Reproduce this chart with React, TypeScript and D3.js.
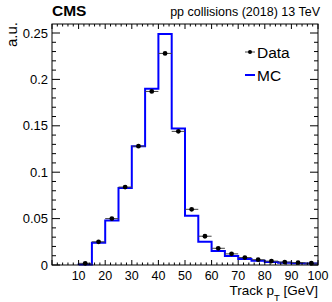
import React from "react";
import * as d3 from "d3";

// bin low edges (GeV), bin width 5
const binLow = [10, 15, 20, 25, 30, 35, 40, 45, 50, 55, 60, 65, 70, 75, 80, 85, 90, 95];
const binWidth = 5;
const mcValues = [
  0.0006, 0.024, 0.048, 0.083, 0.128, 0.19, 0.249, 0.147, 0.053, 0.025, 0.015, 0.0097, 0.0065, 0.0045,
  0.0033, 0.0025, 0.0019, 0.0015,
];
const dataValues = [
  0.0018, 0.025, 0.05, 0.084, 0.128, 0.187, 0.228, 0.144, 0.06, 0.031, 0.018, 0.012, 0.008, 0.0057,
  0.0042, 0.0032, 0.0025, 0.002,
];
const xTickLabels = [10, 20, 30, 40, 50, 60, 70, 80, 90, 100];
const yTickLabels = [0, 0.05, 0.1, 0.15, 0.2, 0.25];

const width = 332;
const height = 302;
const frame = { left: 52, right: 318, top: 24, bottom: 265 };
const font = "'Liberation Sans', Arial, Helvetica, sans-serif";

export default function App() {
  const x = d3.scaleLinear().domain([0, 100]).range([frame.left, frame.right]);
  const y = d3.scaleLinear().domain([0, 0.2597]).range([frame.bottom, frame.top]);

  // MC histogram as a step line
  const mcPoints: [number, number][] = [[binLow[0], 0]];
  binLow.forEach((lo, i) => mcPoints.push([lo, mcValues[i]]));
  mcPoints.push([binLow[binLow.length - 1] + binWidth, mcValues[mcValues.length - 1]]);
  const mcLine = d3
    .line<[number, number]>()
    .x((d) => x(d[0]))
    .y((d) => y(d[1]))
    .curve(d3.curveStepAfter);

  const xMinor = d3.range(0, 101, 2);
  const yMinor = d3.range(0, 0.26, 0.01);

  const xMajLen = 5, xMinLen = 2.5, yMajLen = 8, yMinLen = 4;

  return (
    <svg
      width={width}
      height={height}
      style={{ position: "absolute", left: 0, top: 0, background: "#fff" }}
      fontFamily={font}
    >
      <rect x={0} y={0} width={width} height={height} fill="#fff" />

      {/* MC histogram */}
      <path d={mcLine(mcPoints) || ""} fill="none" stroke="#0000ff" strokeWidth={2} />

      {/* data points with x error bars */}
      {binLow.map((lo, i) => (
        <g key={"d" + i}>
          <line
            x1={x(lo)}
            x2={x(lo + binWidth)}
            y1={y(dataValues[i])}
            y2={y(dataValues[i])}
            stroke="#444"
            strokeWidth={1}
          />
          <circle cx={x(lo + binWidth / 2)} cy={y(dataValues[i])} r={2.4} fill="#000" />
        </g>
      ))}

      {/* frame */}
      <rect
        x={frame.left}
        y={frame.top}
        width={frame.right - frame.left}
        height={frame.bottom - frame.top}
        fill="none"
        stroke="#000"
        strokeWidth={1}
      />

      {/* x ticks bottom & top */}
      {xMinor.map((v) => {
        const major = v % 10 === 0;
        const len = major ? xMajLen : xMinLen;
        return (
          <g key={"xt" + v} stroke="#000" strokeWidth={1}>
            <line x1={x(v)} x2={x(v)} y1={frame.bottom} y2={frame.bottom - len} />
            <line x1={x(v)} x2={x(v)} y1={frame.top} y2={frame.top + len} />
          </g>
        );
      })}
      {xTickLabels.map((v) => (
        <text key={"xl" + v} x={x(v)} y={279.5} textAnchor="middle" fontSize={12.5} fill="#000">
          {v}
        </text>
      ))}

      {/* y ticks left & right */}
      {yMinor.map((v, i) => {
        const major = i % 5 === 0;
        const len = major ? yMajLen : yMinLen;
        return (
          <g key={"yt" + i} stroke="#000" strokeWidth={1}>
            <line x1={frame.left} x2={frame.left + len} y1={y(v)} y2={y(v)} />
            <line x1={frame.right} x2={frame.right - len} y1={y(v)} y2={y(v)} />
          </g>
        );
      })}
      {yTickLabels.map((v) => (
        <text
          key={"yl" + v}
          x={frame.left - 4}
          y={y(v)}
          dy="0.35em"
          textAnchor="end"
          fontSize={13}
          fill="#000"
        >
          {v}
        </text>
      ))}

      {/* axis titles */}
      <text x={frame.right} y={294.5} textAnchor="end" fontSize={13.5} fill="#000">
        Track p
        <tspan fontSize={9.5} dy={6}>T</tspan>
        <tspan dy={-6}> [GeV]</tspan>
      </text>
      <text
        transform={`translate(17, ${frame.top - 2}) rotate(-90)`}
        textAnchor="end"
        fontSize={15}
        fill="#000"
      >
        a.u.
      </text>

      {/* header */}
      <text x={frame.left} y={16} fontSize={15.5} fontWeight="bold" fill="#000">
        CMS
      </text>
      <text x={320} y={16} textAnchor="end" fontSize={12.5} fill="#000">
        pp collisions (2018) 13 TeV
      </text>

      {/* legend */}
      <g>
        <line x1={245} x2={255} y1={52} y2={52} stroke="#444" strokeWidth={1} />
        <circle cx={250} cy={52} r={2} fill="#000" />
        <text x={257} y={57.7} fontSize={15.5} fill="#000">
          Data
        </text>
        <line x1={245} x2={255} y1={75} y2={75} stroke="#0000ff" strokeWidth={2} />
        <text x={257} y={80.7} fontSize={15.5} fill="#000">
          MC
        </text>
      </g>
    </svg>
  );
}
